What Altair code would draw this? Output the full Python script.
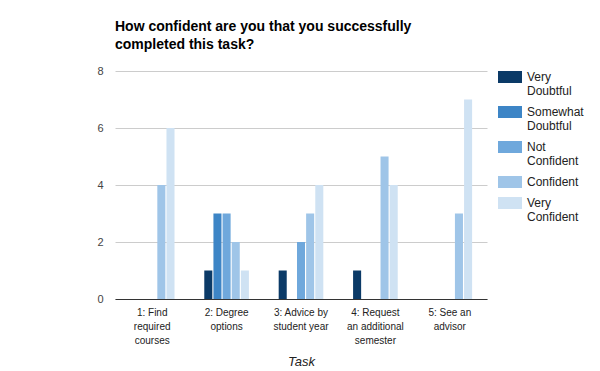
import altair as alt
import pandas as pd

tasks = ["1: Find\nrequired\ncourses", "2: Degree\noptions", "3: Advice by\nstudent year",
         "4: Request\nan additional\nsemester", "5: See an\nadvisor"]
levels = ["Very\nDoubtful", "Somewhat\nDoubtful", "Not\nConfident", "Confident", "Very\nConfident"]
colors = ["#0b3a67", "#3d85c6", "#6fa8dc", "#9fc5e8", "#cfe2f3"]

very_doubtful = [0, 1, 1, 1, 0]
somewhat_doubtful = [0, 3, 0, 0, 0]
not_confident = [0, 3, 2, 0, 0]
confident = [4, 2, 3, 5, 3]
very_confident = [6, 1, 4, 4, 7]

series = [very_doubtful, somewhat_doubtful, not_confident, confident, very_confident]
rows = []
for lvl, vals in zip(levels, series):
    for t, v in zip(tasks, vals):
        rows.append({"Task": t, "Level": lvl, "Count": v})
df = pd.DataFrame(rows)

FONT = "Liberation Sans"

chart = alt.Chart(df).mark_bar().encode(
    x=alt.X("Task:N", sort=tasks,
            scale=alt.Scale(paddingInner=0.4, paddingOuter=0.2),
            axis=alt.Axis(title="Task", labelAngle=0, labelExpr="split(datum.label, '\\n')",
                          labelFont=FONT, labelFontSize=10, labelColor="#222222",
                          labelLineHeight=14, labelPadding=8, ticks=False, grid=False,
                          domainColor="#333333", domainWidth=1,
                          titleFont=FONT, titleFontSize=13, titleFontStyle="italic",
                          titleFontWeight="normal", titleColor="#222222", titlePadding=10)),
    xOffset=alt.XOffset("Level:N", sort=levels, scale=alt.Scale(paddingInner=0.12)),
    y=alt.Y("Count:Q", scale=alt.Scale(domain=[0, 8], nice=False),
            axis=alt.Axis(title=None, values=[0, 2, 4, 6, 8], ticks=False, domain=False,
                          grid=True, labelFont=FONT, labelFontSize=11, labelColor="#444444",
                          labelPadding=12, gridColor="#cccccc")),
    color=alt.Color("Level:N", sort=levels,
                    scale=alt.Scale(domain=levels, range=colors),
                    legend=alt.Legend(title=None, labelExpr="split(datum.label, '\\n')",
                                      symbolType="M-2,-1H2V1H-2Z", symbolSize=144,
                                      symbolStrokeWidth=0, symbolOpacity=1,
                                      labelFont=FONT, labelFontSize=12, labelColor="#222222",
                                      offset=17, rowPadding=9, padding=0,
                                      labelOffset=11)),
).properties(
    width=372,
    height=228,
    title=alt.TitleParams(
        ["How confident are you that you successfully", "completed this task?"],
        anchor="start", font=FONT, fontSize=14, fontWeight="bold", color="#000000",
        lineHeight=18, offset=13, frame="group"),
    autosize=alt.AutoSizeParams(type="none"),
    padding={"left": 107, "top": 63, "right": 105, "bottom": 72},
).configure_view(stroke=None)

chart.save("out.html", embed_options={"renderer": "svg", "actions": False})
